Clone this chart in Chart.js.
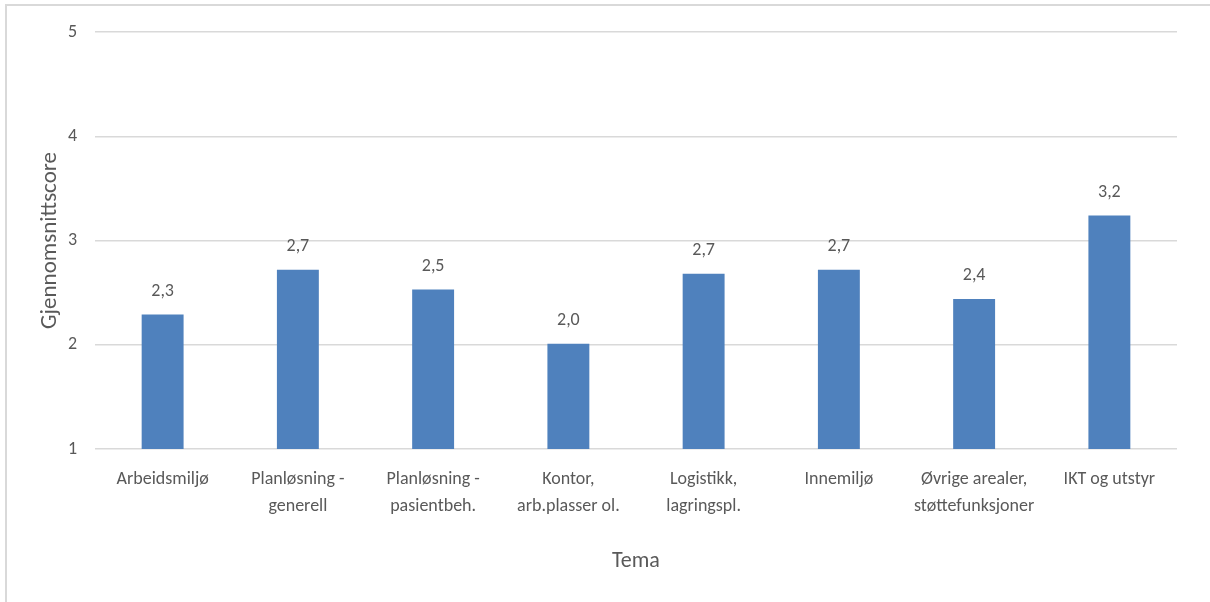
<!DOCTYPE html>
<html lang="no">
<head>
<meta charset="utf-8">
<title>Gjennomsnittscore per tema</title>
<script src="https://cdn.jsdelivr.net/npm/chart.js@4/dist/chart.umd.min.js"></script>
<style>
  html, body { margin: 0; padding: 0; background: #ffffff; }
  #wrap { position: relative; width: 1210px; height: 602px; overflow: hidden; }
  #frame {
    position: absolute; left: 5px; top: 4px; right: -4px; bottom: -4px;
    border-top: 2px solid #d9d9d9; border-left: 2px solid #d9d9d9;
    pointer-events: none;
  }
  canvas { position: absolute; left: 0; top: 0; }
</style>
</head>
<body>
<div id="wrap">
  <canvas id="chart" width="1210" height="602"></canvas>
  <div id="frame"></div>
</div>
<script>
// Temaer (kategorier på x-aksen)
const categories = [
  'Arbeidsmiljø',
  ['Planløsning -', 'generell'],
  ['Planløsning -', 'pasientbeh.'],
  ['Kontor,', 'arb.plasser ol.'],
  ['Logistikk,', 'lagringspl.'],
  'Innemiljø',
  ['Øvrige arealer,', 'støttefunksjoner'],
  'IKT og utstyr'
];

// Gjennomsnittscore per tema
const scores = [2.29, 2.72, 2.53, 2.01, 2.68, 2.72, 2.44, 3.24];

// Verdier på y-aksen
const yTicks = [1, 2, 3, 4, 5];

const textColor = '#595959';
const gridColor = '#d9d9d9';
const barColor = '#4f81bd';
const fontFamily = 'Carlito, Lato, "Liberation Sans", sans-serif';

Chart.defaults.font.family = fontFamily;
Chart.defaults.color = textColor;

// Skriver verdien over hver søyle, med komma som desimaltegn
const valueLabels = {
  id: 'valueLabels',
  afterDatasetsDraw(chart) {
    const { ctx } = chart;
    const meta = chart.getDatasetMeta(0);
    const data = chart.data.datasets[0].data;
    ctx.save();
    ctx.font = '18px ' + fontFamily;
    ctx.fillStyle = textColor;
    ctx.textAlign = 'center';
    ctx.textBaseline = 'middle';
    meta.data.forEach((bar, i) => {
      const txt = data[i].toFixed(1).replace('.', ',');
      ctx.fillText(txt, bar.x, bar.y - 23);
    });
    ctx.restore();
  }
};

new Chart(document.getElementById('chart'), {
  type: 'bar',
  data: {
    labels: categories,
    datasets: [{
      label: 'Gjennomsnittscore',
      data: scores,
      backgroundColor: barColor,
      borderWidth: 0,
      categoryPercentage: 1.0,
      barPercentage: 0.31
    }]
  },
  options: {
    responsive: false,
    animation: false,
    layout: { padding: { left: 0, top: 32, right: 33, bottom: 0 } },
    plugins: {
      legend: { display: false },
      tooltip: { enabled: false }
    },
    scales: {
      x: {
        grid: { display: false, drawTicks: false },
        border: { display: false },
        ticks: {
          padding: 17,
          maxRotation: 0,
          autoSkip: false,
          font: { size: 18, lineHeight: 1.5 },
          color: textColor
        },
        title: {
          display: true,
          text: 'Tema',
          color: textColor,
          font: { size: 22 },
          padding: { top: 0, bottom: 27 }
        },
        afterFit(scale) { scale.height = 153; }
      },
      y: {
        min: 1,
        max: 5,
        grid: { color: gridColor, lineWidth: 1.5, drawTicks: false },
        border: { display: false },
        afterBuildTicks(scale) { scale.ticks = yTicks.map(v => ({ value: v })); },
        ticks: {
          padding: 18,
          font: { size: 18 },
          color: textColor,
          callback: v => String(v)
        },
        title: {
          display: true,
          text: 'Gjennomsnittscore',
          color: textColor,
          font: { size: 23 },
          padding: { top: 36, bottom: 0 }
        },
        afterFit(scale) { scale.width = 95; }
      }
    }
  },
  plugins: [valueLabels]
});
</script>
</body>
</html>
